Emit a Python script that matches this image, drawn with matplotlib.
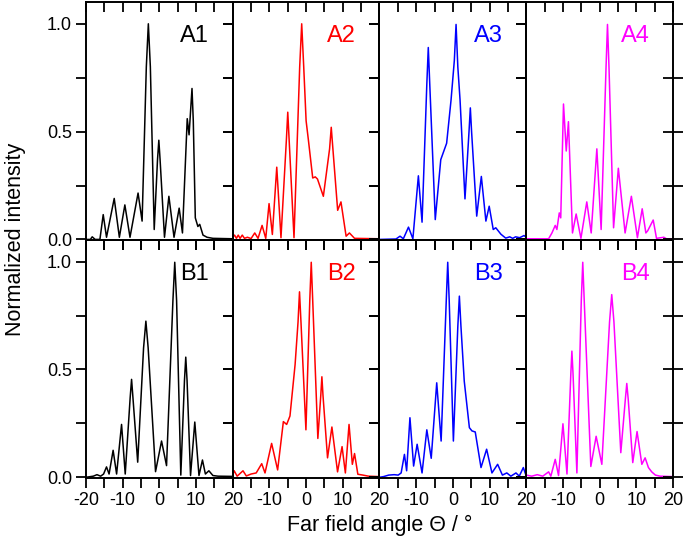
import matplotlib
matplotlib.use("Agg")
import matplotlib.pyplot as plt
from matplotlib.ticker import MultipleLocator, NullFormatter

plt.rcParams['font.family'] = ['Liberation Sans', 'DejaVu Sans']

# ---------------- data (angle in degrees, normalized intensity) ----------------
a1_x = [-20, -18.8, -18.3, -17.5, -16.2, -15.3, -14.4, -12.3, -10.9, -9.4, -8.0, -5.8, -4.7, -3.55,
        -3.0, -2.45, -1.4, -0.5, -0.14, 0.2, 1.4, 2.6, 4.0, 5.4, 6.3, 7.6, 8.1, 8.9, 9.25, 9.8, 10.5,
        11.0, 11.9, 13.0, 14.6, 20]
a1_y = [0.0, 0.0, 0.012, 0.0, 0.0, 0.115, 0.01, 0.19, 0.01, 0.16, 0.01, 0.215, 0.085, 0.8,
        1.0, 0.8, 0.046, 0.37, 0.46, 0.37, 0.01, 0.2, 0.01, 0.145, 0.03, 0.56, 0.485, 0.70, 0.55, 0.1, 0.06,
        0.07, 0.02, 0.01, 0.005, 0.003]

a2_x = [-20, -19.5, -19.0, -18.5, -18.0, -17.4, -16.8, -16.0, -15.0, -14.0, -13.1, -12.0, -11.0, -10.1, -9.2,
        -8.0, -6.85, -5.35, -5.0, -4.65, -3.3, -1.75, -1.2, -0.65, 0.0, 0.63, 1.8, 2.5, 3.1, 4.7, 6.4, 6.85,
        7.3, 8.6, 9.5, 10.9, 11.8, 13.2, 20]
a2_y = [0.01, 0.02, 0.005, 0.02, 0.005, 0.02, 0.005, 0.01, 0.004, 0.03, 0.005, 0.065, 0.005, 0.166, 0.023,
        0.335, 0.008, 0.47, 0.59, 0.47, 0.008, 0.8, 1.0, 0.8, 0.55, 0.46, 0.285, 0.29, 0.28, 0.2, 0.42, 0.52,
        0.42, 0.135, 0.174, 0.015, 0.03, 0.005, 0.003]

a3_x = [-20, -15.5, -14.4, -13.5, -12.1, -10.9, -9.4, -8.4, -7.1, -6.7, -6.3, -4.8, -3.3, -1.7, -0.5, 0.4,
        0.87, 1.35, 1.96, 3.3, 4.4, 4.76, 5.1, 6.5, 7.76, 9.0, 9.9, 11.0, 11.7, 13.1, 14.4, 15.5, 16.3,
        17.1, 18.2, 19.4, 20]
a3_y = [0.0, 0.002, 0.015, 0.003, 0.057, 0.003, 0.295, 0.08, 0.72, 0.89, 0.72, 0.092, 0.37, 0.446, 0.646, 0.83,
        0.997, 0.8, 0.646, 0.188, 0.5, 0.61, 0.5, 0.108, 0.292, 0.085, 0.154, 0.046, 0.054, 0.024, 0.006, 0.012, 0.005,
        0.012, 0.008, 0.018, 0.01]

a4_x = [-20, -13.9, -13.5, -13.0, -12.1, -11.65, -11.0, -10.6, -9.85, -9.1, -8.5, -7.4, -6.4, -5.1, -3.5,
        -2.3, -0.76, 0.41, 1.75, 2.14, 2.55, 3.8, 5.1, 6.94, 8.65, 10.3, 11.6, 12.6, 13.1, 14.6, 15.5, 17.5,
        18.2, 20]
a4_y = [0.003, 0.003, 0.015, 0.03, 0.065, 0.046, 0.123, 0.1, 0.628, 0.41, 0.546, 0.03, 0.118, 0.005, 0.174,
        0.03, 0.42, 0.046, 0.8, 0.997, 0.8, 0.054, 0.33, 0.03, 0.2, 0.008, 0.142, 0.03, 0.04, 0.09, 0.005, 0.01,
        0.003, 0.003]

b1_x = [-20, -18.0, -17.0, -16.0, -15.2, -14.4, -13.7, -12.6, -11.65, -10.3, -9.3, -7.95, -7.57, -7.2, -5.9,
        -4.3, -3.67, -3.05, -1.04, 0.6, 1.96, 3.7, 4.2, 4.7, 5.85, 6.85, 7.2, 7.55, 8.5, 9.66, 10.8, 11.75,
        12.55, 13.5, 14.6, 16.0, 20]
b1_y = [0.0, 0.005, 0.012, 0.005, 0.015, 0.048, 0.015, 0.125, 0.015, 0.245, 0.015, 0.37, 0.454, 0.37, 0.07,
        0.6, 0.724, 0.6, 0.026, 0.168, 0.054, 0.82, 0.997, 0.82, 0.01, 0.45, 0.557, 0.45, 0.008, 0.256, 0.008, 0.08,
        0.015, 0.03, 0.008, 0.005, 0.004]

b2_x = [-20, -19.6, -18.8, -17.2, -16.3, -15.0, -13.6, -12.1, -11.2, -9.4, -7.76, -6.2, -5.3, -4.4, -3.0,
        -2.2, -1.8, -1.4, -0.05, 1.0, 1.4, 1.8, 3.2, 4.0, 4.3, 4.6, 5.84, 7.03, 8.57, 9.8, 10.7, 11.7, 12.6,
        13.2, 14.1, 15.5, 17.0, 20]
b2_y = [0.01, 0.03, 0.005, 0.03, 0.006, 0.015, 0.02, 0.063, 0.02, 0.157, 0.034, 0.258, 0.245, 0.284, 0.523,
        0.72, 0.86, 0.72, 0.22, 0.82, 0.997, 0.82, 0.18, 0.38, 0.466, 0.38, 0.09, 0.233, 0.025, 0.142, 0.02, 0.245, 0.06,
        0.11, 0.014, 0.01, 0.005, 0.003]

b3_x = [-20, -18.9, -17.5, -16.0, -14.9, -14.1, -13.2, -12.6, -11.7, -10.7, -9.74, -8.4, -7.1, -5.9, -4.4,
        -3.2, -1.8, -1.4, -1.0, 0.14, 1.35, 1.77, 2.2, 3.1, 4.5, 5.2, 6.1, 7.67, 9.2, 10.65, 12.2, 13.5, 14.7,
        15.8, 17.2, 18.1, 19.2, 19.9]
b3_y = [0.0, 0.003, 0.01, 0.012, 0.01, 0.02, 0.106, 0.03, 0.276, 0.052, 0.153, 0.02, 0.22, 0.088, 0.438,
        0.168, 0.82, 0.997, 0.82, 0.168, 0.7, 0.84, 0.7, 0.446, 0.23, 0.215, 0.21, 0.045, 0.13, 0.02, 0.06, 0.01, 0.02,
        0.005, 0.02, 0.005, 0.045, 0.01]

b4_x = [-20, -18.5, -17.0, -15.5, -13.9, -13.3, -12.1, -11.2, -10.0, -8.9, -7.85, -7.56, -7.25, -6.2, -5.0,
        -4.6, -4.2, -2.4, -0.95, 0.6, 2.7, 3.3, 3.9, 5.77, 7.0, 7.4, 7.8, 9.03, 10.2, 11.5, 12.4, 13.3, 14.2,
        15.2, 16.5, 20]
b4_y = [0.01, 0.005, 0.012, 0.005, 0.025, 0.005, 0.083, 0.008, 0.248, 0.015, 0.48, 0.585, 0.48, 0.02, 0.82,
        0.997, 0.82, 0.05, 0.19, 0.06, 0.72, 0.847, 0.72, 0.114, 0.36, 0.435, 0.36, 0.068, 0.212, 0.06, 0.09, 0.045, 0.025,
        0.01, 0.005, 0.003]

panels = [
    [("A1", a1_x, a1_y, "black"), ("A2", a2_x, a2_y, "#ff0000"),
     ("A3", a3_x, a3_y, "#0000ff"), ("A4", a4_x, a4_y, "#ff00ff")],
    [("B1", b1_x, b1_y, "black"), ("B2", b2_x, b2_y, "#ff0000"),
     ("B3", b3_x, b3_y, "#0000ff"), ("B4", b4_x, b4_y, "#ff00ff")],
]

x_ticks_first = [-20, -10, 0, 10, 20]
x_ticks_other = [-10, 0, 10, 20]
y_ticks = [0.0, 0.5, 1.0]
y_tick_labels = ["0.0", "0.5", "1.0"]

TL = 7.0
TW = 1.3
SW = 1.4

fig = plt.figure(figsize=(6.85, 5.57), dpi=100)
gs = fig.add_gridspec(2, 4, left=0.1255, right=0.9825, top=0.996, bottom=0.142,
                      wspace=0, hspace=0)

for r in range(2):
    for c in range(4):
        ax = fig.add_subplot(gs[r, c])
        ax.patch.set_visible(False)
        label, xs, ys, col = panels[r][c]
        ax.plot(xs, ys, color=col, lw=1.1)
        ax.set_xlim(-20, 20)
        ax.set_ylim(-0.003, 1.1)
        ax.text(0.84, 0.905, label, transform=ax.transAxes, ha="right", va="top",
                fontsize=17, color=col)
        for s in ax.spines.values():
            s.set_linewidth(SW)
        ax.xaxis.set_major_locator(MultipleLocator(10))
        ax.xaxis.set_minor_locator(MultipleLocator(5))
        ax.set_yticks(y_ticks)
        ax.yaxis.set_minor_locator(MultipleLocator(0.25))
        ax.tick_params(which="both", direction="out", length=TL, width=TW,
                       labelsize=13, pad=3, top=False, right=False)
        if c == 0:
            ax.set_yticklabels(y_tick_labels)
        else:
            ax.set_yticklabels([])
        if r == 1:
            if c == 0:
                ax.set_xticks(x_ticks_first)
                ax.set_xticklabels([str(v) for v in x_ticks_first])
            else:
                ax.set_xticks([-20] + x_ticks_other)
                ax.set_xticklabels([""] + [str(v) for v in x_ticks_other])
            ax.xaxis.set_minor_locator(MultipleLocator(5))
        else:
            ax.set_xticklabels([])

        # inward ticks on the top edge
        tw = ax.twiny()
        tw.patch.set_visible(False)
        tw.set_xlim(-20, 20)
        tw.xaxis.set_major_locator(MultipleLocator(5))
        tw.xaxis.set_major_formatter(NullFormatter())
        tw.tick_params(axis="x", direction="in", length=TL, width=TW,
                       top=True, bottom=False, labeltop=False, labelbottom=False)
        for s in tw.spines.values():
            s.set_visible(False)
        # ticks on the right edge (inward; crossing on the outer edge)
        rw = ax.twinx()
        rw.patch.set_visible(False)
        rw.set_ylim(-0.003, 1.1)
        rw.yaxis.set_major_locator(MultipleLocator(0.25))
        rw.yaxis.set_major_formatter(NullFormatter())
        if c == 3:
            rw.tick_params(axis="y", direction="inout", length=2 * TL, width=TW,
                           right=True, left=False, labelright=False, labelleft=False)
        else:
            rw.tick_params(axis="y", direction="in", length=TL, width=TW,
                           right=True, left=False, labelright=False, labelleft=False)
        for s in rw.spines.values():
            s.set_visible(False)

fig.text(0.022, 0.57, "Normalized intensity", rotation=90, ha="center", va="center", fontsize=15.5)
fig.text(0.554, 0.057, "Far field angle \u0398 / \u00b0", ha="center", va="center", fontsize=15.5)

fig.savefig("out.png", dpi=100)
